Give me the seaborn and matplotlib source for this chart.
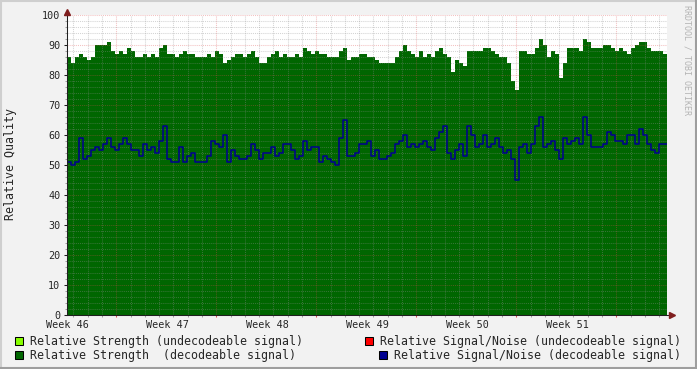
import numpy as np
import pandas as pd
import matplotlib
matplotlib.use('Agg')
import matplotlib.pyplot as plt
import seaborn as sns
from matplotlib.patches import Rectangle
from matplotlib.lines import Line2D

# ---------------- data ----------------
week_labels = ['Week 46', 'Week 47', 'Week 48', 'Week 49', 'Week 50', 'Week 51']
week_days = [0, 7, 14, 21, 28, 35]          # label positions (days from start)

# Relative Strength (decodeable), one value per ~6.7 h interval
strength = [86, 84, 86, 87, 86, 85, 86, 90, 90, 90, 91, 88, 87, 88, 87, 89, 88, 86, 86, 87, 86, 87, 86, 89, 90,
            87, 87, 86, 87, 88, 87, 87, 86, 86, 86, 87, 86, 88, 87, 84, 85, 86, 87, 87, 86, 87, 88, 86, 84, 84,
            86, 87, 88, 86, 87, 86, 86, 87, 86, 89, 88, 87, 88, 87, 87, 86, 86, 86, 88, 89, 85, 86, 86, 87, 87,
            86, 86, 85, 84, 84, 84, 84, 86, 88, 90, 88, 87, 86, 88, 86, 87, 86, 88, 89, 87, 86, 81, 85, 84, 83,
            88, 88, 88, 88, 89, 89, 88, 87, 86, 86, 84, 78, 75, 88, 88, 87, 87, 89, 92, 90, 86, 88, 87, 79, 84,
            89, 89, 89, 88, 92, 91, 89, 89, 89, 90, 90, 89, 88, 89, 88, 87, 89, 90, 91, 91, 89, 88, 88, 88, 87]

# Relative Signal/Noise (decodeable)
snr = [51, 50, 51, 59, 52, 53, 55, 56, 55, 57, 59, 56, 55, 57, 59, 57, 55, 55, 53, 57, 55, 56, 54, 58, 63,
       52, 51, 51, 56, 51, 53, 54, 51, 51, 51, 53, 58, 57, 56, 60, 51, 55, 53, 52, 52, 53, 57, 55, 52, 54,
       54, 56, 53, 54, 57, 57, 55, 52, 53, 58, 55, 56, 56, 51, 53, 52, 51, 50, 59, 65, 53, 53, 54, 57, 57,
       58, 53, 55, 52, 52, 53, 54, 57, 58, 60, 56, 57, 56, 57, 58, 56, 55, 59, 61, 63, 54, 52, 55, 57, 53,
       63, 60, 56, 57, 60, 56, 57, 59, 56, 54, 55, 52, 45, 56, 57, 54, 57, 63, 66, 56, 57, 58, 55, 52, 59,
       57, 58, 59, 57, 66, 60, 56, 56, 56, 57, 61, 60, 58, 58, 57, 60, 60, 57, 62, 60, 57, 55, 54, 57, 57]

legend_labels = ['Relative Strength (undecodeable signal)',
                 'Relative Signal/Noise (undecodeable signal)',
                 'Relative Strength  (decodeable signal)',
                 'Relative Signal/Noise (decodeable signal)']
legend_colors = ['#88ff00', '#ff0000', '#006600', '#000090']

# ---------------- style ----------------
sns.set_style('white')
plt.rcParams['font.family'] = ['DejaVu Sans Mono']

W, H = 697, 369
fig = plt.figure(figsize=(W / 100, H / 100), dpi=100, facecolor='#f2f2f2')
ax = fig.add_axes([67 / W, 54 / H, 599.5 / W, 300 / H])
ax.set_facecolor('white')

step = 0.28  # days per sample
n = len(strength)
x = np.arange(n + 1) * step
g = np.append(strength, strength[-1])
ax.fill_between(x, 0, g, step='post', color='#006600', lw=0, zorder=1)

df = pd.DataFrame({'t': x, 'snr': np.append(snr, snr[-1])})
sns.lineplot(data=df, x='t', y='snr', ax=ax, drawstyle='steps-post',
             color='#000090', lw=1.1, zorder=3, legend=False)

xmax = 599.5 / 100 * 7
ax.set_xlim(0, xmax)
ax.set_ylim(0, 100)
ax.set_xlabel('')
ax.set_ylabel('')

# grid
maj_x = np.round(np.arange(3.45, xmax, 7), 3)
min_x = np.round(np.arange(0.45, xmax, 1), 3)
ax.set_xticks(maj_x)
ax.set_xticks(min_x, minor=True)
ax.set_yticks(np.arange(0, 101, 10))
ax.set_yticks(np.arange(0, 101, 2), minor=True)
ax.set_axisbelow(False)
dot = (0, (1, 1))
ax.grid(True, which='major', color='#de4f4f', alpha=0.35, ls=dot, lw=0.75)
ax.grid(True, which='minor', color='#8f8f8f', alpha=0.38, ls=dot, lw=0.75)

ax.tick_params(axis='x', which='major', length=1.5, width=0.75, color='#de4f4f',
               labelbottom=False, bottom=True, direction='out')
ax.tick_params(axis='x', which='minor', length=1.5, width=0.75, color='#a0a0a0',
               bottom=True, direction='out')
ax.tick_params(axis='y', which='major', length=2.2, width=0.75, color='#1f1f1f',
               labelsize=7.3, pad=2.5, left=True, direction='out')
ax.tick_params(axis='y', which='minor', length=1.5, width=0.75, color='#a0a0a0',
               left=True, direction='out')

for s in ['top', 'right']:
    ax.spines[s].set_visible(False)
for s in ['left', 'bottom']:
    ax.spines[s].set_color('#1f1f1f')
    ax.spines[s].set_linewidth(0.75)
    ax.spines[s].set_zorder(4)

# week labels on a secondary axis
sec = ax.secondary_xaxis('bottom')
sec.set_xticks(week_days, labels=week_labels)
sec.tick_params(length=0, labelsize=7.3, pad=3.5)
sec.spines['bottom'].set_visible(False)

# axis arrows
ax.add_line(Line2D([0, 0], [1, 1 + 3 / 300], transform=ax.transAxes, color='#1f1f1f',
                   lw=0.75, clip_on=False))
ax.add_line(Line2D([1, 1 + 3 / 599.5], [0, 0], transform=ax.transAxes, color='#1f1f1f',
                   lw=0.75, clip_on=False))
ax.plot([0], [1 + 3.5 / 300], marker='^', ms=4.3, color='#801f1f', mec='#801f1f',
        transform=ax.transAxes, clip_on=False, zorder=5)
ax.plot([1 + 5 / 599.5], [0], marker='>', ms=4.3, color='#801f1f', mec='#801f1f',
        transform=ax.transAxes, clip_on=False, zorder=5)

# y label and watermark
fig.text(11 / W, 1 - 164 / H, 'Relative Quality', rotation=90, ha='center', va='center',
         fontsize=8.35)
fig.text(687 / W, 1 - 60 / H, 'RRDTOOL / TOBI OETIKER', rotation=270, ha='center',
         va='center', fontsize=6, color='#b4b4b4')

# legend
sq = 8
legend_pos = [(15, 341, 30), (365, 341, 380), (15, 355, 30), (379, 355, 394)]
for (sx, sy, tx), lab, col in zip(legend_pos, legend_labels, legend_colors):
    fig.patches.append(Rectangle((sx / W, 1 - (sy + sq / 2) / H), sq / W, sq / H,
                                 transform=fig.transFigure, facecolor=col,
                                 edgecolor='black', lw=0.75))
    fig.text(tx / W, 1 - sy / H, lab, ha='left', va='center', fontsize=8.35)

# shaded frame
fig.add_artist(Line2D([0, 1], [1 - 1 / H, 1 - 1 / H], transform=fig.transFigure, color='#cfcfcf', lw=1.5))
fig.add_artist(Line2D([1 / W, 1 / W], [0, 1], transform=fig.transFigure, color='#cfcfcf', lw=1.5))
fig.add_artist(Line2D([0, 1], [1 / H, 1 / H], transform=fig.transFigure, color='#9e9e9e', lw=1.5))
fig.add_artist(Line2D([1 - 1 / W, 1 - 1 / W], [0, 1], transform=fig.transFigure, color='#9e9e9e', lw=1.5))

fig.savefig('out.png', dpi=100, facecolor=fig.get_facecolor())
